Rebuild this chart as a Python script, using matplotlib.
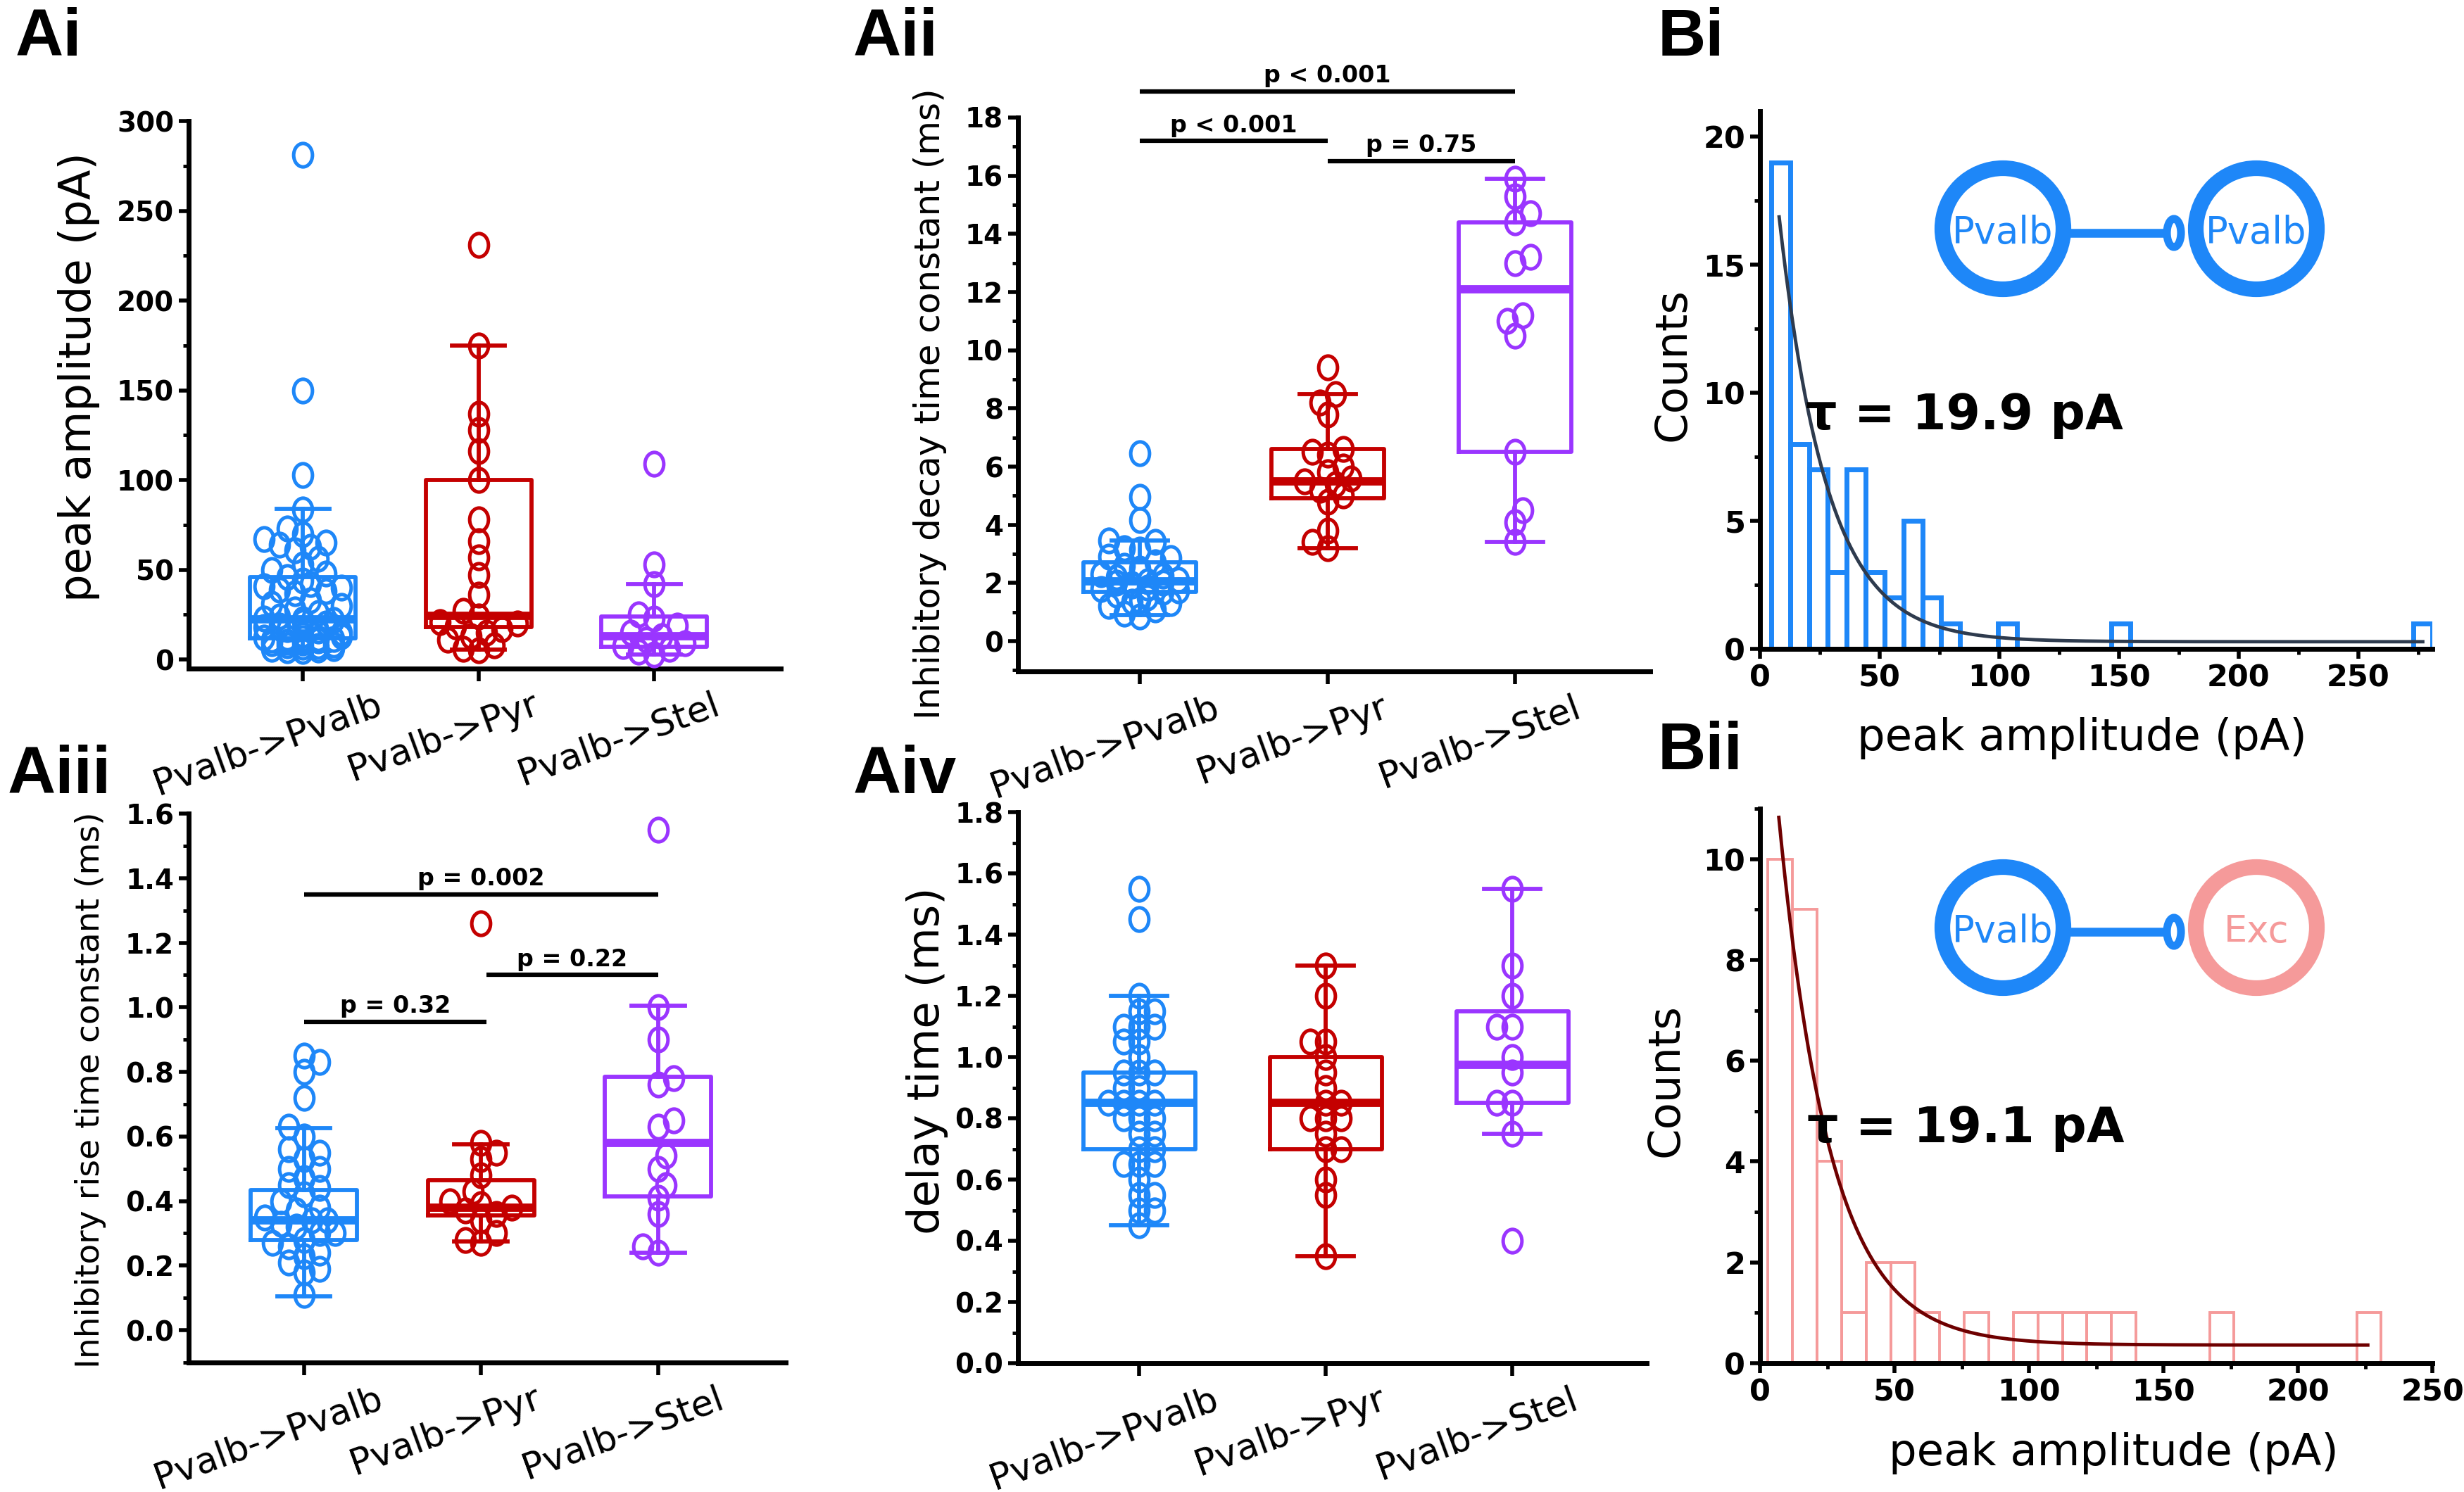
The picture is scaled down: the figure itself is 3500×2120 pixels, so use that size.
import numpy as np
import matplotlib
matplotlib.use("Agg")
import matplotlib.pyplot as plt
import matplotlib.transforms as mtransforms
from matplotlib.path import Path
from matplotlib.patches import Circle, Ellipse
from matplotlib.ticker import MultipleLocator, FormatStrFormatter

# ---------------- data ----------------
groups = ["Pvalb->Pvalb", "Pvalb->Pyr", "Pvalb->Stel"]

# Ai  peak amplitude (pA)
amp_pvalb = [4.7, 5, 5.5, 6, 6.5, 7, 7.5, 8, 8.5, 9, 9.5, 10, 10.5, 11, 11.5, 12, 12, 12.2, 12.4,
             13, 14, 15, 16, 17, 18, 19, 20,
             21, 22, 22.5, 23, 24, 26, 28,
             30, 31, 33,
             37, 38, 39, 40, 41, 42, 44,
             46, 48, 50,
             53, 56,
             61, 63, 64, 65, 67,
             70, 73, 83.5, 103, 150, 281]
amp_pyr = [5, 6, 8, 11, 13, 15, 17, 18.5, 20, 21, 24, 27, 36, 47, 57, 66, 78, 100, 116, 128, 137, 175, 231]
amp_stel = [3, 4.5, 6, 7.5, 9, 11, 13, 15, 19, 23, 25, 42, 53, 109]
# box stats: (whisker low, q1, median, q3, whisker high)
amp_box = [(4.7, 12, 22.5, 46, 84), (5.5, 18, 24.5, 100, 175), (3, 7, 13, 24, 42)]

# Aii  inhibitory decay time constant (ms)
decay_pvalb = [0.85, 0.95, 1.1, 1.2, 1.3, 1.35, 1.4, 1.5, 1.6, 1.7, 1.75, 1.8, 1.85, 1.9, 1.95, 2.0, 2.0,
               2.05, 2.1, 2.2, 2.25, 2.3, 2.4, 2.5, 2.6, 2.7, 2.85, 2.9, 3.15, 3.2, 3.4, 3.45, 4.15, 4.95, 6.45]
decay_pyr = [3.2, 3.4, 3.8, 4.8, 5.0, 5.2, 5.4, 5.5, 5.6, 5.8, 6.0, 6.4, 6.5, 6.6, 7.8, 8.2, 8.5, 9.4]
decay_stel = [3.4, 4.1, 4.5, 6.5, 10.5, 11.0, 11.2, 13.0, 13.2, 14.4, 14.7, 15.3, 15.9]
decay_box = [(0.9, 1.7, 2.05, 2.7, 3.45), (3.2, 4.9, 5.5, 6.6, 8.5), (3.4, 6.5, 12.1, 14.4, 15.9)]
decay_sig = [("p < 0.001", 1, 3, 18.9), ("p < 0.001", 1, 2, 17.2), ("p = 0.75", 2, 3, 16.5)]

# Aiii  inhibitory rise time constant (ms)
rise_pvalb = [0.11, 0.18, 0.19, 0.21, 0.23, 0.24, 0.26, 0.27, 0.28, 0.30, 0.30, 0.32, 0.33, 0.34, 0.34,
              0.35, 0.37, 0.38, 0.40, 0.42, 0.44, 0.45, 0.47, 0.50, 0.50, 0.53, 0.55, 0.56, 0.60, 0.63,
              0.72, 0.80, 0.83, 0.85]
rise_pyr = [0.27, 0.28, 0.30, 0.34, 0.36, 0.37, 0.38, 0.39, 0.40, 0.43, 0.48, 0.53, 0.55, 0.58, 1.26]
rise_stel = [0.24, 0.26, 0.36, 0.41, 0.45, 0.50, 0.54, 0.63, 0.65, 0.76, 0.78, 0.90, 1.0, 1.55]
rise_box = [(0.105, 0.28, 0.34, 0.435, 0.625), (0.275, 0.355, 0.38, 0.465, 0.575), (0.24, 0.415, 0.58, 0.785, 1.005)]
rise_sig = [("p = 0.002", 1, 3, 1.35), ("p = 0.32", 1, 2.03, 0.955), ("p = 0.22", 2.03, 3, 1.10)]

# Aiv  delay time (ms)
delay_pvalb = [0.45, 0.5, 0.5, 0.55, 0.55, 0.6, 0.65, 0.65, 0.65, 0.7, 0.7, 0.75, 0.75, 0.8, 0.8, 0.8,
               0.85, 0.85, 0.85, 0.85, 0.9, 0.9, 0.95, 0.95, 0.95, 1.0, 1.05, 1.05, 1.1, 1.1, 1.1,
               1.15, 1.15, 1.2, 1.45, 1.55]
delay_pyr = [0.35, 0.55, 0.6, 0.7, 0.7, 0.75, 0.8, 0.8, 0.8, 0.85, 0.85, 0.9, 0.95, 1.0, 1.05, 1.05, 1.2, 1.3]
delay_stel = [0.4, 0.75, 0.85, 0.85, 0.95, 1.0, 1.1, 1.1, 1.2, 1.3, 1.55]
delay_box = [(0.45, 0.7, 0.85, 0.95, 1.2), (0.35, 0.7, 0.85, 1.0, 1.3), (0.75, 0.85, 0.975, 1.15, 1.55)]

# Bi / Bii exponential fits  y = base + amp * exp(-x / tau)
tau_pvalb, base_pvalb, amp0_pvalb, fit_range_pvalb = 19.9, 0.28, 24.8, (8.0, 277.0)
tau_exc, base_exc, amp0_exc, fit_range_exc = 19.1, 0.36, 15.1, (7.0, 226.0)

# ---------------- style ----------------
BLUE, RED, PURPLE, PINK = "#1E87F8", "#C40000", "#9A35FF", "#F59A9A"
COLORS = [BLUE, RED, PURPLE]
W, H, DPI = 3500, 2120, 100
plt.rcParams["font.family"] = ["DejaVu Sans"]
plt.rcParams["font.weight"] = "bold"

OVAL = Path.unit_circle().transformed(mtransforms.Affine2D().scale(0.8, 1.0))
MS, MEW = 24, 3.6

fig = plt.figure(figsize=(W / DPI, H / DPI), dpi=DPI)


def px_axes(left, top, right, bottom):
    return fig.add_axes([left / W, 1 - bottom / H, (right - left) / W, (bottom - top) / H])


def style(ax, tick_size):
    for s in ("top", "right"):
        ax.spines[s].set_visible(False)
    for s in ("left", "bottom"):
        ax.spines[s].set_linewidth(5)
    ax.tick_params(which="major", direction="out", length=10, width=4, pad=5, labelsize=tick_size)
    ax.tick_params(which="minor", direction="out", length=6, width=3.5)


def swarm_x(ax, xc, vals, w_px=29.0, h_px=36.0, gap=0.58, step=0.38, kmax=5):
    # spread points sideways so the open markers do not pile up
    tr = ax.transData
    ppx = tr.transform((xc + 1, 0))[0] - tr.transform((xc, 0))[0]
    ys = tr.transform(np.column_stack([np.full(len(vals), xc), vals]))[:, 1]
    placed, xs = [], np.zeros(len(vals))
    for n, i in enumerate(np.argsort(vals, kind="stable")):
        sgn = 1 if n % 2 == 0 else -1
        cands = [0.0]
        for k in range(1, kmax + 1):
            cands += [sgn * k * step * w_px, -sgn * k * step * w_px]
        best, best_cost = 0.0, None
        for off in cands:
            cost = sum(1 for ox, oy in placed
                       if ((off - ox) / w_px) ** 2 + ((ys[i] - oy) / h_px) ** 2 < gap ** 2)
            if best_cost is None or cost < best_cost:
                best, best_cost = off, cost
            if cost == 0:
                break
        placed.append((best, ys[i]))
        xs[i] = xc + best / ppx
    return xs


def box_panel(rect, series, stats, ylim, major, minor, fmt, ylabel, ylab_xy, ylab_size, sig=None):
    ax = px_axes(*rect)
    ax.set_xlim(0.35, 3.72)
    ax.set_ylim(*ylim)

    for i, (st, col) in enumerate(zip(stats, COLORS)):
        lo, q1, med, q3, hi = st
        ax.bxp([dict(whislo=lo, q1=q1, med=med, q3=q3, whishi=hi, fliers=[])],
               positions=[i + 1], widths=0.6, capwidths=0.3, showfliers=False, manage_ticks=False,
               boxprops=dict(color=col, lw=4.2), whiskerprops=dict(color=col, lw=4.2),
               capprops=dict(color=col, lw=4.2), medianprops=dict(color=col, lw=8.5))
    for i, (vals, col) in enumerate(zip(series, COLORS)):
        xs = swarm_x(ax, i + 1, vals)
        ax.plot(xs, vals, ls="none", marker=OVAL, ms=MS, mfc="none", mec=col, mew=MEW, zorder=3)

    ax.set_xlim(0.35, 3.72)
    ax.set_ylim(*ylim)
    style(ax, 28)
    ax.yaxis.set_major_locator(MultipleLocator(major))
    ax.yaxis.set_minor_locator(MultipleLocator(minor))
    ax.yaxis.set_major_formatter(FormatStrFormatter(fmt))
    ax.set_xticks([1, 2, 3])
    ax.set_xticklabels([])
    ax.tick_params(axis="x", length=13)

    off = mtransforms.ScaledTranslation(-36 / 72, -19 / 72, fig.dpi_scale_trans)
    for i, g in enumerate(groups):
        ax.text(i + 1, 0, g, transform=ax.get_xaxis_transform() + off, rotation=20,
                ha="center", va="top", fontsize=37, fontweight="normal")

    ax.set_ylabel(ylabel, fontsize=ylab_size, fontweight="normal", va="center")
    ax.yaxis.set_label_coords(*ylab_xy)

    if sig:
        for txt, x1, x2, y in sig:
            ax.plot([x1, x2], [y, y], color="black", lw=4.5, clip_on=False, solid_capstyle="butt")
            ax.annotate(txt, ((x1 + x2) / 2, y), xytext=(0, 4), textcoords="offset points",
                        ha="center", va="bottom", fontsize=24, fontweight="bold", annotation_clip=False)
    return ax


def hist_panel(rect, values, bins, color, lw, ylim, ymajor, yminor, fit, tau_text, tau_xy):
    ax = px_axes(*rect)
    ax.hist(values, bins=bins, fill=False, edgecolor=color, linewidth=lw)
    tau, base, amp0, (x0, x1), fit_col = fit
    xf = np.linspace(x0, x1, 400)
    ax.plot(xf, base + amp0 * np.exp(-xf / tau), color=fit_col, lw=3.5)
    ax.set_ylim(*ylim)
    style(ax, 31)
    ax.xaxis.set_major_locator(MultipleLocator(50))
    ax.xaxis.set_minor_locator(MultipleLocator(25))
    ax.yaxis.set_major_locator(MultipleLocator(ymajor))
    ax.yaxis.set_minor_locator(MultipleLocator(yminor))
    ax.text(*tau_xy, tau_text, fontsize=50, fontweight="bold", va="center", ha="left")
    return ax


def schematic(cy, right_label, right_color):
    ax = px_axes(2700, cy - 130, 3340, cy + 130)
    ax.set_xlim(2700, 3340)
    ax.set_ylim(cy + 130, cy - 130)
    ax.axis("off")
    ax.add_patch(Circle((2845, cy), 86, fill=False, ec=BLUE, lw=16))
    ax.add_patch(Circle((3205, cy), 86, fill=False, ec=right_color, lw=16))
    ax.plot([2935, 3076], [cy + 6, cy + 6], color=BLUE, lw=9, solid_capstyle="butt")
    ax.add_patch(Ellipse((3088, cy + 6), 20, 40, fill=False, ec=BLUE, lw=8))
    ax.text(2845, cy + 6, "Pvalb", color=BLUE, fontsize=38, fontweight="normal", ha="center", va="center")
    ax.text(3205, cy + 6, right_label, color=right_color, fontsize=38, fontweight="normal",
            ha="center", va="center")


# ---------------- panels ----------------
box_panel((268, 172, 1109, 950), [amp_pvalb, amp_pyr, amp_stel], amp_box, (-5, 300), 50, 25, "%d",
          "peak amplitude (pA)", (-0.185, 0.532), 45)
box_panel((1446, 167, 2344, 954), [decay_pvalb, decay_pyr, decay_stel], decay_box, (-1.04, 18), 2, 1, "%d",
          "Inhibitory decay time constant (ms)", (-0.139, 0.483), 36, sig=decay_sig)
box_panel((268, 1156, 1116, 1936), [rise_pvalb, rise_pyr, rise_stel], rise_box, (-0.1, 1.6), 0.2, 0.1, "%.1f",
          "Inhibitory rise time constant (ms)", (-0.164, 0.496), 34, sig=rise_sig)
box_panel((1446, 1154, 2339, 1937), [delay_pvalb, delay_pyr, delay_stel], delay_box, (0, 1.8), 0.2, 0.1, "%.1f",
          "delay time (ms)", (-0.144, 0.549), 45)

axb1 = hist_panel((2500, 158, 3455, 922), amp_pvalb, 35, BLUE, 5, (0, 21), 5, 2.5,
                  (tau_pvalb, base_pvalb, amp0_pvalb, fit_range_pvalb, "#2E3B4E"),
                  "τ = 19.9 pA", (19, 9.1))
axb1.set_xlim(0, 281)
axb1.set_ylabel("Counts", fontsize=45, fontweight="normal", va="center")
axb1.yaxis.set_label_coords(-0.129, 0.529)
axb1.set_xlabel("peak amplitude (pA)", fontsize=45, fontweight="normal", va="center")
axb1.xaxis.set_label_coords(0.479, -0.166)

axb2 = hist_panel((2500, 1149, 3455, 1937), np.concatenate([amp_pyr, amp_stel]), 25, PINK, 2.8, (0, 11), 2, 1,
                  (tau_exc, base_exc, amp0_exc, fit_range_exc, "#6E0000"),
                  "τ = 19.1 pA", (17.5, 4.66))
axb2.set_xlim(0, 250)
axb2.set_ylabel("Counts", fontsize=45, fontweight="normal", va="center")
axb2.yaxis.set_label_coords(-0.14, 0.51)
axb2.set_xlabel("peak amplitude (pA)", fontsize=45, fontweight="normal", va="center")
axb2.xaxis.set_label_coords(0.526, -0.162)

schematic(325, "Pvalb", BLUE)
schematic(1318, "Exc", PINK)

# panel letters
for txt, x, y in [("Ai", 22, 10), ("Aii", 1212, 10), ("Bi", 2355, 10),
                  ("Aiii", 11, 1058), ("Aiv", 1212, 1058), ("Bii", 2355, 1024)]:
    fig.text(x / W, 1 - y / H, txt, fontsize=68, fontweight="bold", family="Liberation Sans",
             ha="left", va="top")

fig.savefig("out.png", dpi=DPI)
